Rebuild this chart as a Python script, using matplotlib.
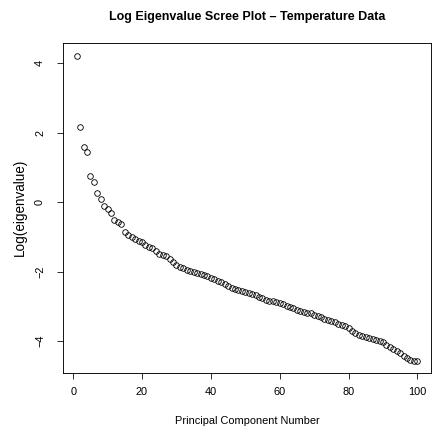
import matplotlib
matplotlib.use('Agg')
import matplotlib.pyplot as plt
import numpy as np

plt.rcParams['font.family'] = ['Liberation Sans', 'DejaVu Sans']

# log eigenvalues, components 1..100
component = np.arange(1, 101)
log_eig = [
    4.22, 2.17, 1.59, 1.44, 0.76, 0.58, 0.27, 0.10, -0.10, -0.21,
    -0.30, -0.51, -0.58, -0.63, -0.85, -0.95, -1.00, -1.05, -1.11, -1.16,
    -1.22, -1.28, -1.33, -1.42, -1.50, -1.53, -1.56, -1.63, -1.71, -1.80,
    -1.86, -1.90, -1.94, -1.97, -2.01, -2.05, -2.08, -2.11, -2.14, -2.18,
    -2.22, -2.26, -2.30, -2.35, -2.40, -2.46, -2.49, -2.52, -2.55, -2.58,
    -2.62, -2.65, -2.68, -2.72, -2.76, -2.81, -2.84, -2.86, -2.88, -2.91,
    -2.94, -2.98, -3.02, -3.06, -3.10, -3.13, -3.16, -3.18, -3.20, -3.24,
    -3.28, -3.32, -3.36, -3.40, -3.43, -3.46, -3.50, -3.54, -3.58, -3.63,
    -3.72, -3.78, -3.82, -3.85, -3.88, -3.91, -3.94, -3.97, -4.00, -4.04,
    -4.10, -4.16, -4.22, -4.28, -4.35, -4.42, -4.48, -4.54, -4.56, -4.57,
]
xticks = [0, 20, 40, 60, 80, 100]
yticks = [-4, -2, 0, 2, 4]

fig = plt.figure(figsize=(6, 6), dpi=72)
ax = fig.add_axes([63 / 432, 1 - 373 / 432, (431 - 63) / 432, (373 - 42.5) / 432])

ax.plot(component, log_eig, 'o', markersize=5.6, markerfacecolor='none',
        markeredgecolor='black', markeredgewidth=0.85)

ax.set_xlim(-2.96, 103.96)
ax.set_ylim(-4.92, 4.6)
ax.set_xticks(xticks)
ax.set_yticks(yticks)
ax.tick_params(direction='out', length=6, width=0.8, labelsize=11, colors='black')
ax.tick_params(axis='x', pad=8)
ax.tick_params(axis='y', pad=12, labelrotation=90)
for lbl in ax.get_yticklabels():
    lbl.set_verticalalignment('center')
for s in ax.spines.values():
    s.set_linewidth(0.9)

ax.set_xlabel('Principal Component Number', fontsize=11, labelpad=18.5)
ax.set_ylabel('Log(eigenvalue)', fontsize=13.5, labelpad=8)
fig.text(247.5 / 432, 1 - 17.3 / 432, 'Log Eigenvalue Scree Plot \u2013 Temperature Data',
         ha='center', va='center', fontsize=12.5, fontweight='bold')

fig.savefig('out.png', dpi=72)
